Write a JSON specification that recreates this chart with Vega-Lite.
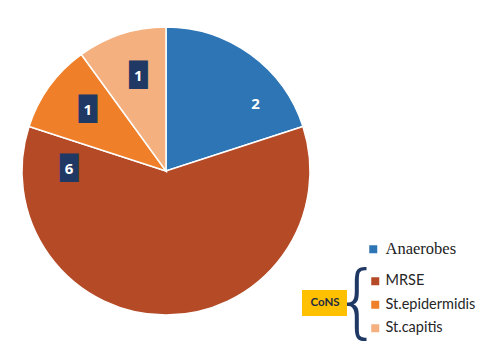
{
  "$schema": "https://vega.github.io/schema/vega-lite/v6.json",
  "width": 288,
  "height": 288,
  "autosize": {"type": "none"},
  "padding": {"left": 22, "top": 27, "right": 178, "bottom": 39},
  "background": "white",
  "config": {"view": {"stroke": null}},
  "data": {
    "values": [
      {"organism": "Anaerobes", "n": 2, "rank": 1, "group": "Anaerobes"},
      {"organism": "MRSE", "n": 6, "rank": 2, "group": "CoNS"},
      {"organism": "St.epidermidis", "n": 1, "rank": 3, "group": "CoNS"},
      {"organism": "St.capitis", "n": 1, "rank": 4, "group": "CoNS"}
    ]
  },
  "encoding": {
    "theta": {"field": "n", "type": "quantitative", "stack": true},
    "order": {"field": "rank", "type": "quantitative"},
    "detail": {"field": "organism", "type": "nominal"}
  },
  "layer": [
    {
      "mark": {"type": "arc", "outerRadius": 144, "stroke": "white", "strokeWidth": 1.5},
      "encoding": {
        "color": {
          "field": "organism", "type": "nominal",
          "scale": {
            "domain": ["Anaerobes", "MRSE", "St.epidermidis", "St.capitis"],
            "range": ["#2E75B6", "#B44A26", "#EF8029", "#F5B07F"]
          },
          "legend": {
            "orient": "none", "legendX": 310, "legendY": 247,
            "values": ["MRSE", "St.epidermidis", "St.capitis"],
            "title": "{", "titleOrient": "left", "titleAnchor": "middle",
            "titleFont": "DejaVu Sans", "titleFontWeight": 200, "titleFontSize": 80,
            "titleColor": "#1F3864", "titlePadding": -15,
            "symbolType": "square", "symbolSize": 64, "symbolStrokeWidth": 0,
            "labelFont": "Lato", "labelFontSize": 14.5, "labelColor": "#262626",
            "labelOffset": 3, "rowPadding": 8.5, "padding": 0, "labelLimit": 300
          }
        }
      }
    },
    {
      "mark": {"type": "arc", "outerRadius": 144, "strokeWidth": 1.5},
      "encoding": {
        "fill": {
          "field": "organism", "type": "nominal",
          "scale": {
            "domain": ["MRSE", "St.epidermidis", "St.capitis", "Anaerobes"],
            "range": ["#B44A26", "#EF8029", "#F5B07F", "#2E75B6"]
          },
          "legend": {
            "orient": "none", "legendX": 343, "legendY": 214,
            "values": ["Anaerobes"], "title": null,
            "symbolType": "square", "symbolSize": 64, "symbolStrokeWidth": 0,
            "labelFont": "Liberation Serif", "labelFontSize": 16.5, "labelColor": "#222222",
            "labelOffset": 4, "padding": 0
          }
        },
        "stroke": {
          "field": "group", "type": "nominal",
          "scale": {"domain": ["CoNS", "Anaerobes"], "range": ["white", "white"]},
          "legend": {
            "orient": "none", "legendX": 280, "legendY": 263,
            "values": ["CoNS"], "title": null,
            "fillColor": "#FFC000", "padding": 7,
            "symbolSize": 1, "symbolStrokeWidth": 0, "symbolOpacity": 0,
            "labelOffset": -10,
            "labelFont": "Lato", "labelFontWeight": "bold", "labelFontSize": 11.5, "labelColor": "#1F2A44"
          }
        }
      }
    },
    {
      "mark": {"type": "text", "radius": 99, "thetaOffset": 0.03, "font": "DejaVu Sans", "fontSize": 24, "color": "#203864", "baseline": "middle", "align": "center"},
      "encoding": {
        "text": {"condition": {"test": "datum.organism === 'St.epidermidis' || datum.organism === 'St.capitis'", "value": "█"}, "value": ""}
      }
    },
    {
      "mark": {"type": "text", "radius": 97, "thetaOffset": 1.588, "font": "DejaVu Sans", "fontSize": 24, "color": "#203864", "baseline": "middle", "align": "center"},
      "encoding": {
        "text": {"condition": {"test": "datum.organism === 'MRSE'", "value": "█"}, "value": ""}
      }
    },
    {
      "mark": {"type": "text", "radius": 99, "thetaOffset": 0.03, "font": "Open Sans", "fontWeight": "bold", "fontSize": 15, "color": "white", "baseline": "middle", "align": "center"},
      "encoding": {
        "text": {"condition": {"test": "datum.organism === 'St.epidermidis' || datum.organism === 'St.capitis'", "field": "n", "type": "quantitative"}, "value": ""}
      }
    },
    {
      "mark": {"type": "text", "radius": 97, "thetaOffset": 1.588, "font": "Open Sans", "fontWeight": "bold", "fontSize": 15, "color": "white", "baseline": "middle", "align": "center"},
      "encoding": {
        "text": {"condition": {"test": "datum.organism === 'MRSE'", "field": "n", "type": "quantitative"}, "value": ""}
      }
    },
    {
      "mark": {"type": "text", "radius": 112, "thetaOffset": 0.297, "font": "Open Sans", "fontWeight": "bold", "fontSize": 15, "color": "white", "baseline": "middle", "align": "center"},
      "encoding": {
        "text": {"condition": {"test": "datum.organism === 'Anaerobes'", "field": "n", "type": "quantitative"}, "value": ""}
      }
    }
  ]
}
